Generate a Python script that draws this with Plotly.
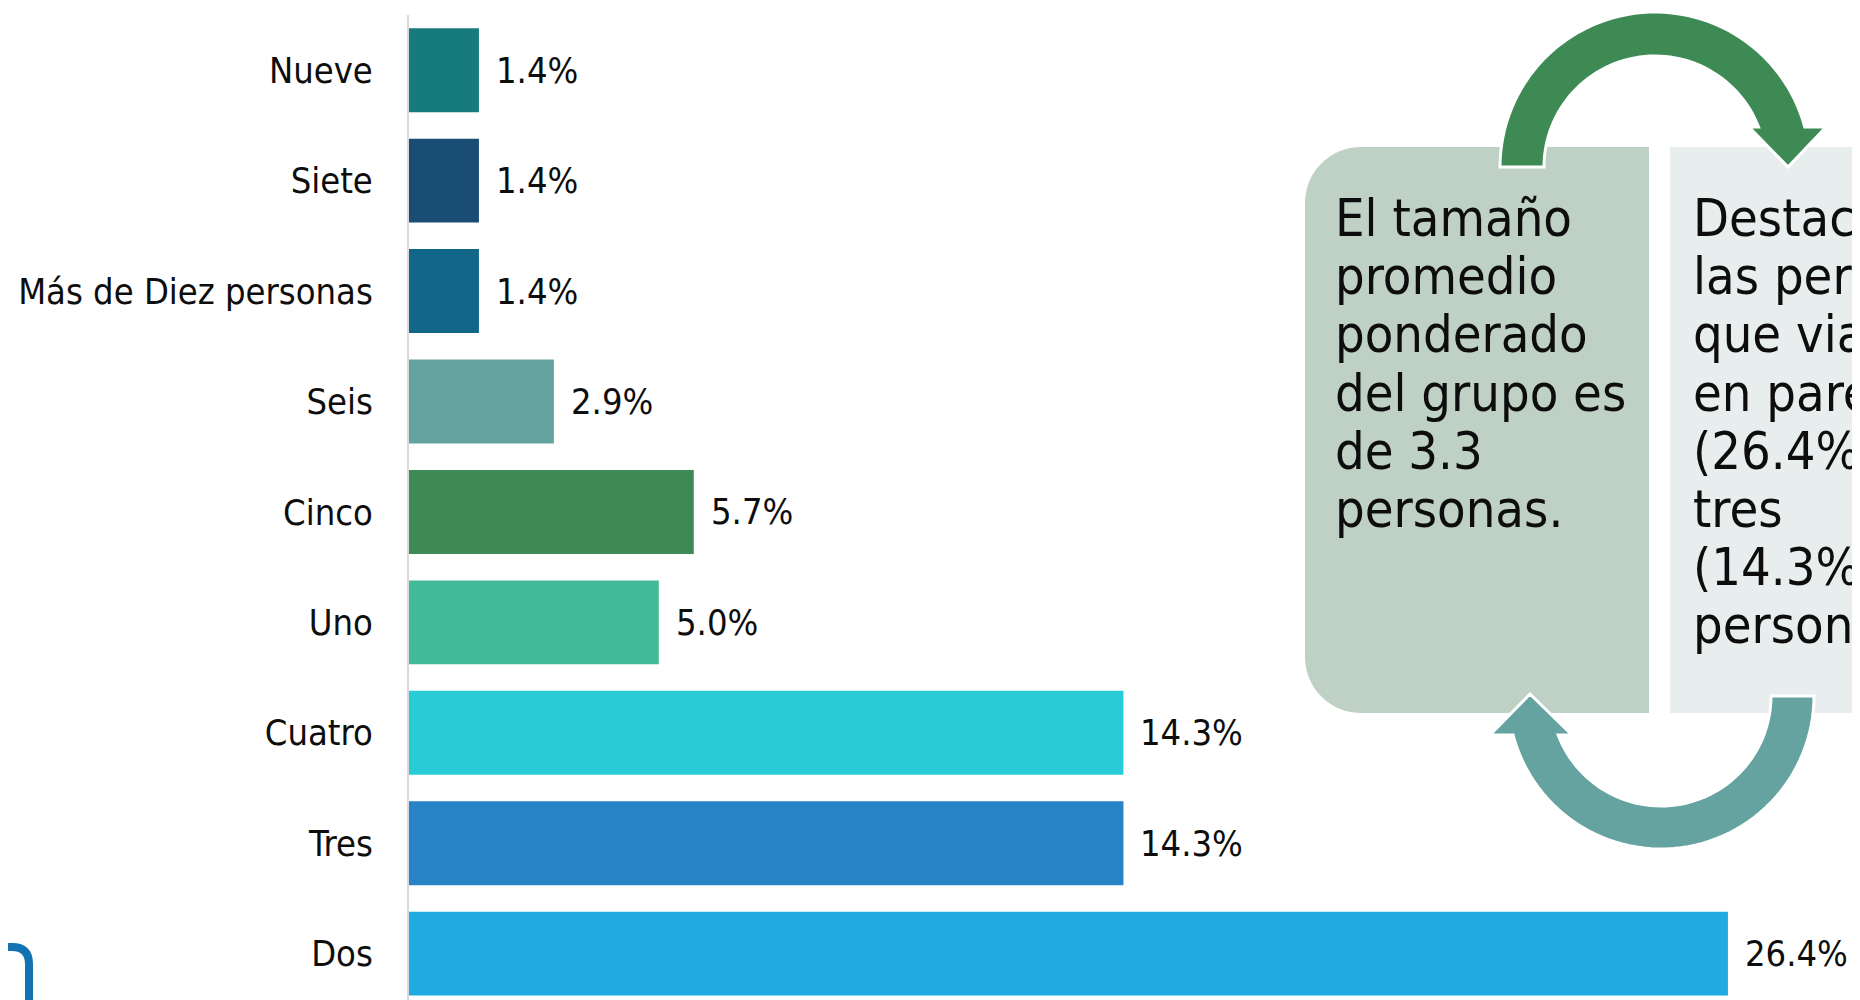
import math
import plotly.graph_objects as go

# ---------------- data ----------------
categories = ["Nueve", "Siete", "Más de Diez personas", "Seis", "Cinco",
              "Uno", "Cuatro", "Tres", "Dos"]
values = [1.4, 1.4, 1.4, 2.9, 5.7, 5.0, 14.3, 14.3, 26.4]
bar_colors = ["#177B7C", "#1A4D74", "#126789", "#64A39F", "#3E8A55",
              "#43BA97", "#27CCD6", "#2782C6", "#1FABE2"]

box1_lines = ["El tamaño", "promedio", "ponderado", "del grupo es",
              "de 3.3", "personas."]
box2_lines = ["Destacan", "las personas", "que viajan", "en pareja",
              "(26.4%) y", "tres", "(14.3%)", "personas."]

FONT = "DejaVu Sans Condensed, DejaVu Sans, Verdana, sans-serif"

# ---------------- layout geometry (pixels) ----------------
OFF = 8                      # page body margin
W, H = 1860 - OFF, 1000 - OFF
ML, MR, MT, MB = 409 - OFF, 2, 15 - OFF, 0
PW, PH = W - ML - MR, H - MT - MB


def px(x):
    return (x - OFF - ML) / PW


def py(y):
    return (H - MB - (y - OFF)) / PH


def path_from(points):
    return "M " + " L ".join(f"{px(x):.5f},{py(y):.5f}" for x, y in points) + " Z"


fig = go.Figure()
fig.add_trace(go.Bar(
    x=values, y=categories, orientation="h",
    marker=dict(color=bar_colors, line=dict(width=0)),
    width=0.76, hoverinfo="skip", showlegend=False,
))

annotations = []
for c, v in zip(categories, values):
    annotations.append(dict(
        x=v, y=c, xref="x", yref="y", text=f"{v:.1f}%", showarrow=False,
        xanchor="left", yanchor="middle", xshift=15,
        font=dict(family=FONT, size=36, color="#0D0D0D"),
    ))

# ---------------- shapes ----------------
shapes = []
# box 1 (rounded left corners)
x0, x1, y0, y1, r = 1305, 1649, 147, 713, 56
pts = [(x1, y0), (x1, y1)]
for k in range(0, 21):
    a = math.pi / 2 + k * (math.pi / 2) / 20
    pts.append((x0 + r + r * math.cos(a), y1 - r + r * math.sin(a)))
for k in range(0, 21):
    a = math.pi + k * (math.pi / 2) / 20
    pts.append((x0 + r + r * math.cos(a), y0 + r + r * math.sin(a)))
shapes.append(dict(type="path", xref="paper", yref="paper", path=path_from(pts),
                   fillcolor="#BFD0C5", line=dict(width=0), layer="above"))
# box 2
shapes.append(dict(type="path", xref="paper", yref="paper",
                   path=path_from([(1670, 147), (1900, 147), (1900, 713), (1670, 713)]),
                   fillcolor="#E8EEEE", line=dict(width=0), layer="above"))

# top arrow (green)
cx, cy, ro, ri, yb = 1655, 167, 155, 111, 127
ao = math.asin((cy - yb) / ro)
ai = math.asin((cy - yb) / ri)
pts = []
n = 60
for k in range(n + 1):
    a = math.pi - k * (math.pi - ao) / n
    pts.append((cx + ro * math.cos(a), cy - ro * math.sin(a)))
pts += [(1826, yb), (1788, 167), (1749, yb)]
for k in range(n + 1):
    a = ai + k * (math.pi - ai) / n
    pts.append((cx + ri * math.cos(a), cy - ri * math.sin(a)))
shapes.append(dict(type="path", xref="paper", yref="paper", path=path_from(pts),
                   fillcolor="#3E8A55", line=dict(width=3, color="white"), layer="above"))

# bottom arrow (teal)
cx, cy, ro, ri, yb = 1661, 696, 153, 110, 735
ao = math.pi - math.asin((yb - cy) / ro)
ai = math.pi - math.asin((yb - cy) / ri)
pts = []
for k in range(n + 1):
    a = k * ao / n
    pts.append((cx + ro * math.cos(a), cy + ro * math.sin(a)))
pts += [(1490, yb), (1530, 694), (1572, yb)]
for k in range(n + 1):
    a = ai - k * ai / n
    pts.append((cx + ri * math.cos(a), cy + ri * math.sin(a)))
shapes.append(dict(type="path", xref="paper", yref="paper", path=path_from(pts),
                   fillcolor="#64A39F", line=dict(width=3, color="white"), layer="above"))

# partial blue outline bottom-left
bl = (f"M {px(0):.5f},{py(947):.5f} L {px(12):.5f},{py(947):.5f} "
      f"Q {px(29):.5f},{py(947):.5f} {px(29):.5f},{py(964):.5f} "
      f"L {px(29):.5f},{py(1020):.5f}")
shapes.append(dict(type="path", xref="paper", yref="paper", path=bl,
                   line=dict(width=8, color="#1273B0"), layer="above"))

# box texts
line_y = [218, 276, 334, 393, 451, 509, 567, 625]
for i, t in enumerate(box1_lines):
    annotations.append(dict(x=px(1333), y=py(line_y[i]), xref="paper", yref="paper",
                            text=t, showarrow=False, xanchor="left", yanchor="middle",
                            font=dict(family=FONT, size=52, color="#0D0D0D")))
for i, t in enumerate(box2_lines):
    annotations.append(dict(x=px(1691), y=py(line_y[i]), xref="paper", yref="paper",
                            text=t, showarrow=False, xanchor="left", yanchor="middle",
                            font=dict(family=FONT, size=52, color="#0D0D0D")))

fig.update_layout(
    width=W, height=H,
    margin=dict(l=ML, r=MR, t=MT, b=MB, pad=0),
    paper_bgcolor="white", plot_bgcolor="white",
    bargap=0.24,
    xaxis=dict(range=[0, PW / 49.96], visible=False, showgrid=False, zeroline=False),
    yaxis=dict(type="category", categoryorder="array", categoryarray=categories,
               range=[8.42, -0.5], showgrid=False, zeroline=False,
               showline=True, linecolor="#D9D9D9", linewidth=2,
               ticks="", ticklabelstandoff=27,
               tickfont=dict(family=FONT, size=36, color="#0D0D0D")),
    shapes=shapes, annotations=annotations,
)

fig.write_html("out.html")
